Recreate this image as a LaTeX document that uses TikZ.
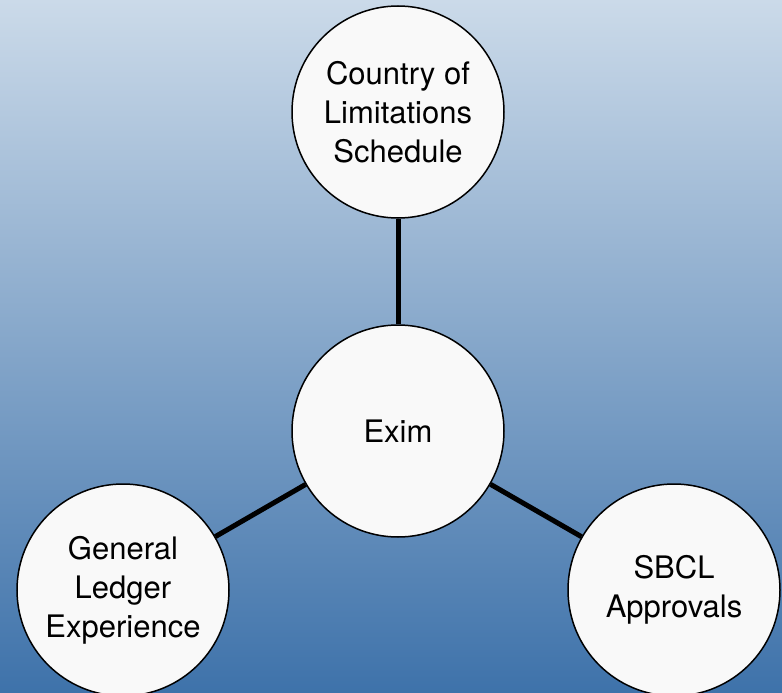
\documentclass[tikz,border=0pt]{standalone}
\usepackage{fontspec}
\setmainfont{TeX Gyre Heros}
\definecolor{bgtop}{RGB}{203,218,233}
\definecolor{bgbot}{RGB}{62,114,170}
\definecolor{circfill}{RGB}{249,249,249}
\pgfdeclarelayer{bg}
\pgfdeclarelayer{links}
\pgfsetlayers{bg,links,main}
\begin{document}
\begin{tikzpicture}[x=1pt,y=-1pt,
  bubble/.style={circle, draw=black, line width=1.5pt, fill=circfill,
    minimum size=212pt, inner sep=0pt, align=center,
    font=\fontsize{31}{39}\selectfont},
  link/.style={line width=5pt, draw=black}]
\useasboundingbox (0,0) rectangle (782,693);
\begin{pgfonlayer}{bg}
\shade[top color=bgtop, bottom color=bgbot] (0,0) rectangle (782,693);
\end{pgfonlayer}
\clip (0,0) rectangle (782,693);
\node[bubble] (c) at (398,431) {Exim};
\node[bubble] (t) at (398,112) {Country of\\Limitations\\Schedule};
\node[bubble] (l) at (123,590) {General\\Ledger\\Experience};
\node[bubble] (r) at (674,590) {SBCL\\Approvals};
\begin{pgfonlayer}{links}
\draw[link] (c) -- (t);
\draw[link] (c) -- (l);
\draw[link] (c) -- (r);
\end{pgfonlayer}
\end{tikzpicture}
\end{document}
